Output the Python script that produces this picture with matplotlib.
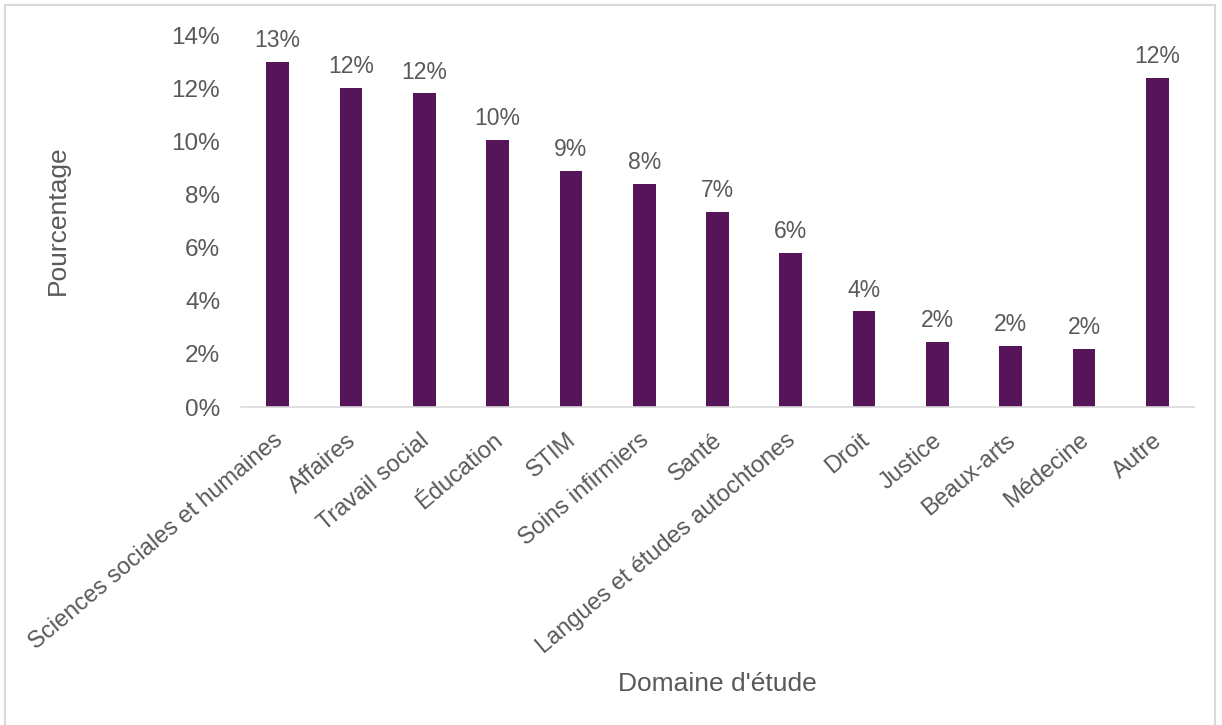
import numpy as np
import matplotlib.pyplot as plt
from matplotlib.patches import Rectangle
from matplotlib.transforms import ScaledTranslation

plt.rcParams['font.family'] = ['Liberation Sans', 'DejaVu Sans']

# Répartition par domaine d'étude (%)
domaines = ["Sciences sociales et humaines", "Affaires", "Travail social", "Éducation",
            "STIM", "Soins infirmiers", "Santé", "Langues et études autochtones",
            "Droit", "Justice", "Beaux-arts", "Médecine", "Autre"]
pourcentages = [13.0, 12.0, 11.8, 10.05, 8.9, 8.4, 7.35, 5.8, 3.6, 2.45, 2.3, 2.2, 12.4]

gris = '#595959'
violet = '#561459'

fig = plt.figure(figsize=(12.22, 7.25), dpi=100)
ax = fig.add_axes([241 / 1222, 1 - 407 / 725, (1194 - 241) / 1222, (407 - 35) / 725])

x = np.arange(len(domaines))
barres = ax.bar(x, pourcentages, width=0.31, color=violet)

for xi, v in zip(x, pourcentages):
    ax.annotate(f"{v:.0f}%", (xi, v), xytext=(0, 7), textcoords='offset points',
                ha='center', va='bottom', fontsize=16.5, color=gris)

ax.set_xlim(-0.5, len(domaines) - 0.5)
ax.set_ylim(0, 14)
ax.set_yticks(np.arange(0, 15, 2))
ax.set_yticklabels([f"{t}%" for t in range(0, 15, 2)])
ax.set_xticks(x)
ax.set_xticklabels(domaines, rotation=40, ha='right', va='top', rotation_mode='anchor')
ax.tick_params(axis='y', length=0, labelsize=17.5, labelcolor=gris, pad=15)
ax.tick_params(axis='x', length=0, labelsize=17, labelcolor=gris, pad=16)

# petit décalage des étiquettes inclinées vers la gauche
decalage = ScaledTranslation(-5 / 100, 0, fig.dpi_scale_trans)
for lab in ax.get_xticklabels():
    lab.set_transform(lab.get_transform() + decalage)

for s in ['top', 'right', 'left']:
    ax.spines[s].set_visible(False)
ax.spines['bottom'].set_color('#d9d9d9')
ax.spines['bottom'].set_linewidth(1.2)

fig.text(58 / 1222, 1 - 220 / 725, "Pourcentage", rotation=90, ha='center', va='center',
         fontsize=19, color=gris)
fig.text(717 / 1222, 1 - 684 / 725, "Domaine d'étude", ha='center', va='center',
         fontsize=19, color=gris)

# cadre autour de la figure
fig.add_artist(Rectangle((5 / 1222, -0.05), 1210 / 1222, 1.05 - 5 / 725,
                         transform=fig.transFigure, fill=False,
                         edgecolor='#d9d9d9', linewidth=1.5))

fig.savefig('out.png', dpi=100)
